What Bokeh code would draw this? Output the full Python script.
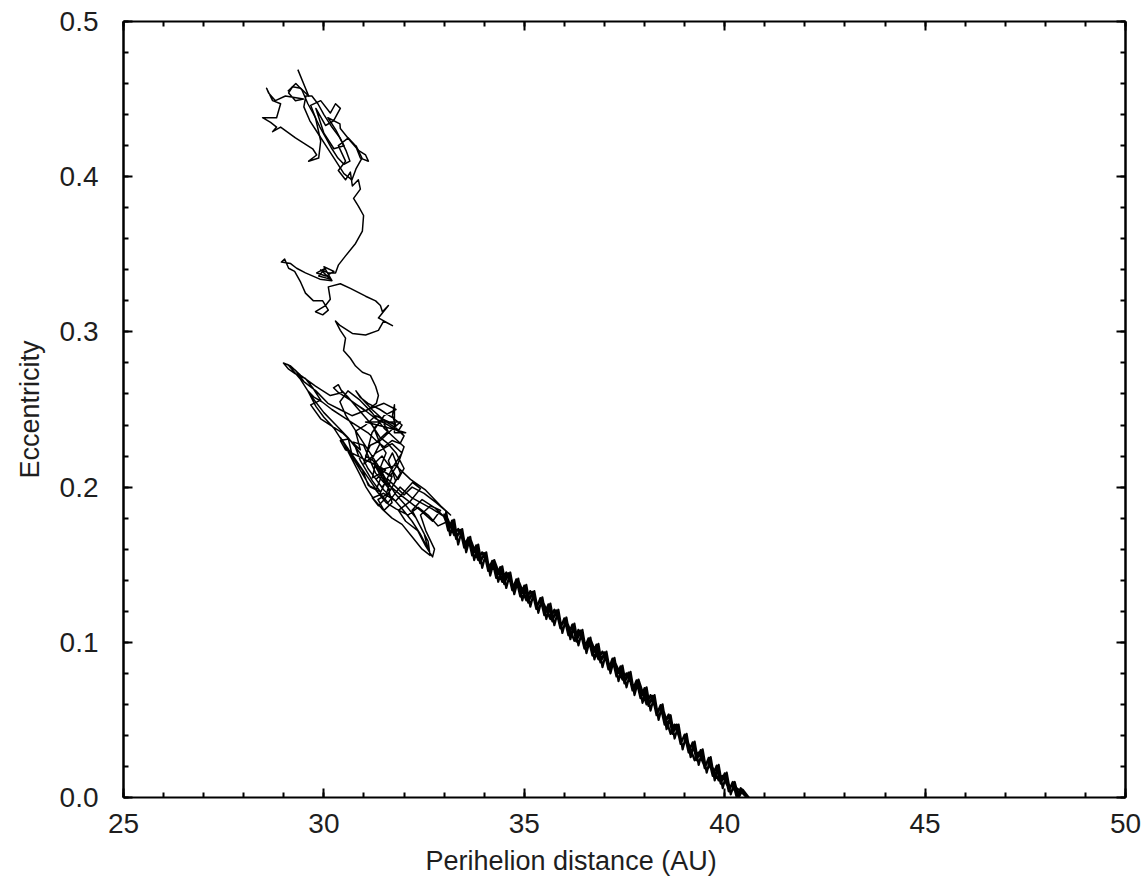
from bokeh.plotting import figure
from bokeh.models import LinearAxis, SingleIntervalTicker, PrintfTickFormatter, Range1d, Title
from bokeh.embed import file_html
from bokeh.resources import INLINE

# ---- data (perihelion distance q [AU], eccentricity e) ----
top_q = [29.35, 29.62, 29.42, 29.22, 29.12, 29.29, 29.49, 29.04, 28.79, 28.62, 28.57, 28.72, 28.92,
         28.82, 28.47, 28.67, 28.82, 28.72, 28.92, 29.29, 29.72, 29.82, 29.62, 29.87, 29.92, 29.79,
         29.67, 29.92, 30.16, 30.29, 30.41, 30.24, 30.04, 29.80, 30.00, 30.25, 30.50, 30.30, 30.10,
         30.40, 30.41, 30.66, 30.86, 31.04, 31.11, 30.91,
         30.79, 30.61, 30.36, 30.54, 30.36, 30.54, 30.66, 30.71, 30.86, 30.91, 30.74, 30.86, 30.99,
         30.96, 30.79, 30.54, 30.36, 30.29]
top_e = [0.469, 0.452, 0.457, 0.458, 0.454, 0.449, 0.450, 0.452, 0.449, 0.454, 0.457, 0.449, 0.447,
         0.438, 0.438, 0.435, 0.432, 0.429, 0.432, 0.425, 0.418, 0.414, 0.410, 0.412, 0.423, 0.438,
         0.446, 0.449, 0.441, 0.447, 0.444, 0.436, 0.433, 0.444, 0.428, 0.418, 0.420, 0.430, 0.438,
         0.434, 0.431, 0.423, 0.417, 0.414, 0.410, 0.412,
         0.420, 0.425, 0.420, 0.410, 0.404, 0.398, 0.403, 0.394, 0.398, 0.392, 0.386, 0.381, 0.375,
         0.365, 0.357, 0.349, 0.343, 0.338]

top2_q = [29.10, 29.30, 29.45, 29.60, 29.75, 29.90, 30.05, 30.20, 30.35, 30.50, 30.65, 30.55, 30.40,
          30.20, 30.00, 29.85, 29.70, 29.55, 29.50, 29.65, 29.85, 30.05, 30.30, 30.50, 30.70, 30.80,
          30.95, 30.80]
top2_e = [0.455, 0.460, 0.456, 0.447, 0.440, 0.432, 0.425, 0.418, 0.412, 0.408, 0.410, 0.417, 0.425,
          0.432, 0.440, 0.447, 0.452, 0.452, 0.445, 0.436, 0.428, 0.420, 0.410, 0.402, 0.398, 0.405,
          0.412, 0.420]

mid_q = [30.11, 29.92, 30.16, 29.87, 30.04, 29.82, 30.05, 30.25, 30.00, 30.20, 29.90,
         29.54, 29.32, 29.17, 28.94, 29.02, 29.12, 29.27,
         29.42, 29.54, 29.74, 29.97, 30.11, 29.97, 29.79, 30.04, 30.16, 30.11, 30.41, 30.66, 31.04,
         31.29, 31.41, 31.46, 31.61, 31.36, 31.71, 31.49, 31.36, 31.04, 30.71, 30.41, 30.29, 30.41,
         30.54, 30.49, 30.66, 30.79, 30.96, 31.16, 31.29, 31.36, 31.31]
mid_e = [0.338, 0.340, 0.334, 0.336, 0.341, 0.338, 0.336, 0.339, 0.342, 0.333, 0.334,
         0.338, 0.341, 0.344, 0.345, 0.347, 0.341, 0.339,
         0.332, 0.325, 0.320, 0.320, 0.314, 0.311, 0.313, 0.317, 0.321, 0.329, 0.331, 0.328, 0.323,
         0.320, 0.317, 0.313, 0.317, 0.309, 0.304, 0.307, 0.301, 0.298, 0.299, 0.304, 0.307, 0.301,
         0.296, 0.288, 0.283, 0.278, 0.274, 0.272, 0.265, 0.259, 0.254]

low_q = [31.04, 30.66, 30.36, 30.24, 30.36, 30.46, 30.16, 29.79, 29.42, 29.17, 28.99, 29.12, 29.29,
         29.54, 29.72, 29.92, 29.67, 29.92, 30.16, 30.46, 30.66, 30.91, 30.79, 31.04, 31.29, 31.54,
         31.79, 31.71, 31.76, 31.76, 32.04, 31.79, 31.04, 31.91, 31.61, 31.41, 31.16, 31.04, 31.29,
         31.21, 31.54, 30.54, 30.41, 30.61, 30.71, 30.96, 31.11, 31.29, 30.41, 30.79, 31.16, 31.41,
         31.21, 30.91, 30.74, 30.99, 31.29, 31.66, 31.79, 31.61, 31.71, 31.91, 31.54, 31.36, 31.21,
         31.49, 31.79, 32.04, 32.21, 32.41, 32.16, 31.86, 32.04, 32.34, 32.54, 32.71, 32.76, 32.54,
         32.41, 32.66, 32.91, 32.71, 32.41, 31.91, 31.54, 31.41, 31.79, 32.16, 32.54, 32.91, 33.16]
low_e = [0.249, 0.256, 0.261, 0.264, 0.266, 0.261, 0.259, 0.265, 0.272, 0.278, 0.280, 0.276, 0.273,
         0.270, 0.264, 0.256, 0.253, 0.244, 0.240, 0.235, 0.230, 0.224, 0.236, 0.240, 0.246, 0.243,
         0.240, 0.246, 0.253, 0.235, 0.235, 0.237, 0.242, 0.242, 0.235, 0.230, 0.227, 0.220, 0.216,
         0.206, 0.211, 0.224, 0.230, 0.231, 0.220, 0.211, 0.201, 0.199, 0.232, 0.216, 0.200, 0.197,
         0.204, 0.217, 0.229, 0.227, 0.209, 0.198, 0.204, 0.217, 0.222, 0.209, 0.193, 0.188, 0.193,
         0.196, 0.191, 0.198, 0.203, 0.199, 0.191, 0.185, 0.178, 0.172, 0.162, 0.155, 0.160, 0.172,
         0.182, 0.188, 0.185, 0.178, 0.185, 0.195, 0.203, 0.211, 0.214, 0.205, 0.198, 0.188, 0.182]

band1_q = [33.00, 33.10, 33.20, 33.30, 33.40, 33.50, 33.60, 33.70, 33.80, 33.90, 34.00, 34.10, 34.20,
           34.30, 34.40, 34.50, 34.60, 34.70, 34.80, 34.90, 35.00, 35.10, 35.20, 35.30, 35.40, 35.50,
           35.60, 35.70, 35.80, 35.90, 36.00, 36.10, 36.20, 36.30, 36.40, 36.50, 36.60, 36.70, 36.80,
           36.90, 37.00, 37.10, 37.20, 37.30, 37.40, 37.50, 37.60, 37.70, 37.80, 37.90, 38.00, 38.10,
           38.20, 38.30, 38.40, 38.50, 38.60, 38.70, 38.80, 38.90, 39.00, 39.10, 39.20, 39.30, 39.40,
           39.50, 39.60, 39.70, 39.80, 39.90, 40.00, 40.10, 40.20, 40.30, 40.40, 40.55]
band1_e = [0.181, 0.174, 0.177, 0.168, 0.171, 0.163, 0.167, 0.157, 0.162, 0.152, 0.157, 0.148, 0.152,
           0.142, 0.148, 0.139, 0.144, 0.134, 0.140, 0.130, 0.136, 0.127, 0.132, 0.122, 0.128, 0.118,
           0.124, 0.114, 0.120, 0.109, 0.115, 0.105, 0.111, 0.101, 0.107, 0.096, 0.102, 0.092, 0.098,
           0.087, 0.093, 0.083, 0.089, 0.078, 0.084, 0.074, 0.080, 0.069, 0.075, 0.064, 0.070, 0.059,
           0.065, 0.053, 0.059, 0.047, 0.053, 0.041, 0.047, 0.035, 0.040, 0.030, 0.035, 0.025, 0.030,
           0.019, 0.025, 0.014, 0.020, 0.009, 0.015, 0.005, 0.009, 0.001, 0.004, 0.000]

band2_q = [40.45, 40.25, 40.15, 39.95, 39.85, 39.65, 39.55, 39.35, 39.25, 39.05, 38.95, 38.75, 38.65,
           38.45, 38.35, 38.15, 38.05, 37.85, 37.75, 37.55, 37.45, 37.25, 37.15, 36.95, 36.85, 36.65,
           36.55, 36.35, 36.25, 36.05, 35.95, 35.75, 35.65, 35.45, 35.35, 35.15, 35.05, 34.85, 34.75,
           34.55, 34.45, 34.25, 34.15, 33.95, 33.85, 33.65, 33.55, 33.35, 33.25, 33.05]
band2_e = [0.003, 0.007, 0.003, 0.014, 0.011, 0.022, 0.017, 0.029, 0.024, 0.038, 0.033, 0.047, 0.041,
           0.058, 0.052, 0.066, 0.060, 0.076, 0.069, 0.080, 0.076, 0.088, 0.083, 0.094, 0.089, 0.102,
           0.095, 0.108, 0.101, 0.114, 0.108, 0.121, 0.115, 0.127, 0.121, 0.133, 0.127, 0.140, 0.134,
           0.145, 0.139, 0.153, 0.146, 0.158, 0.153, 0.167, 0.161, 0.173, 0.169, 0.182]

band3_q = [33.05, 33.15, 33.25, 33.35, 33.45, 33.55, 33.65, 33.75, 33.85, 33.95, 34.05, 34.15, 34.25,
           34.35, 34.45, 34.55, 34.65, 34.75, 34.85, 34.95, 35.05, 35.15, 35.25, 35.35, 35.45, 35.55,
           35.65, 35.75, 35.85, 35.95, 36.05, 36.15, 36.25, 36.35, 36.45, 36.55, 36.65, 36.75, 36.85,
           36.95, 37.05, 37.15, 37.25, 37.35, 37.45, 37.55, 37.65, 37.75, 37.85, 37.95, 38.05, 38.15,
           38.25, 38.35, 38.45, 38.55, 38.65, 38.75, 38.85, 38.95, 39.05, 39.15, 39.25, 39.35, 39.45,
           39.55, 39.65, 39.75, 39.85, 39.95, 40.05, 40.15, 40.25, 40.35, 40.45, 40.60]
band3_e = [0.184, 0.169, 0.179, 0.163, 0.173, 0.158, 0.168, 0.153, 0.163, 0.148, 0.158, 0.143, 0.153,
           0.139, 0.149, 0.135, 0.145, 0.131, 0.141, 0.127, 0.137, 0.123, 0.133, 0.119, 0.129, 0.115,
           0.125, 0.111, 0.121, 0.106, 0.116, 0.102, 0.112, 0.098, 0.108, 0.093, 0.103, 0.089, 0.099,
           0.084, 0.094, 0.080, 0.090, 0.075, 0.085, 0.071, 0.081, 0.066, 0.076, 0.061, 0.071, 0.056,
           0.066, 0.050, 0.060, 0.044, 0.053, 0.038, 0.047, 0.031, 0.041, 0.026, 0.036, 0.021, 0.031,
           0.016, 0.026, 0.011, 0.021, 0.006, 0.016, 0.002, 0.010, 0.000, 0.005, 0.000]

band4_q = [40.40, 40.30, 40.20, 40.10, 40.00, 39.90, 39.80, 39.70, 39.60, 39.50, 39.40, 39.30, 39.20,
           39.10, 39.00, 38.90, 38.80, 38.70, 38.60, 38.50, 38.40, 38.30, 38.20, 38.10, 38.00, 37.90,
           37.80, 37.70, 37.60, 37.50, 37.40, 37.30, 37.20, 37.10, 37.00, 36.90, 36.80, 36.70, 36.60,
           36.50, 36.40, 36.30, 36.20, 36.10, 36.00, 35.90, 35.80, 35.70, 35.60, 35.50, 35.40, 35.30,
           35.20, 35.10, 35.00, 34.90, 34.80, 34.70, 34.60, 34.50, 34.40, 34.30, 34.20, 34.10, 34.00,
           33.90, 33.80, 33.70, 33.60, 33.50, 33.40, 33.30, 33.20, 33.10, 33.00]
band4_e = [0.006, 0.000, 0.010, 0.004, 0.0155, 0.009, 0.0205, 0.014, 0.0255, 0.019, 0.0305, 0.024, 0.0355,
           0.029, 0.0405, 0.0345, 0.0465, 0.041, 0.0535, 0.0475, 0.0595, 0.0535, 0.0655, 0.059, 0.0705, 0.064,
           0.0755, 0.069, 0.0805, 0.0735, 0.0845, 0.078, 0.0895, 0.0825, 0.0935, 0.087, 0.0985, 0.0915, 0.1025,
           0.096, 0.1075, 0.1005, 0.1115, 0.1045, 0.1155, 0.109, 0.1205, 0.1135, 0.1245, 0.1175, 0.1285, 0.1215,
           0.1325, 0.1255, 0.1365, 0.1295, 0.1405, 0.1335, 0.1445, 0.1375, 0.1485, 0.1415, 0.1525, 0.146, 0.1575,
           0.151, 0.1625, 0.156, 0.1675, 0.161, 0.1725, 0.1665, 0.1785, 0.172, 0.183]

low2_q = [32.80, 32.50, 32.20, 32.00, 31.80, 31.60, 31.45, 31.30, 31.50, 31.70, 31.55, 31.35, 31.50,
          31.70, 31.60, 31.40, 31.25, 31.45, 31.65, 31.85, 32.00, 31.80, 31.60, 31.40, 31.20, 31.00,
          30.80, 30.60, 30.45, 30.70, 31.00, 31.30, 31.60, 31.85, 31.95, 31.70, 31.40, 31.10, 30.90,
          30.80, 30.95, 31.20, 31.50, 31.80, 32.00, 31.90, 31.70, 31.50, 31.30, 31.10, 30.80, 30.50,
          30.20, 29.95, 29.75, 29.60, 29.80, 30.00, 30.25, 30.50, 30.70, 30.90, 31.05, 31.25, 31.45,
          31.70, 31.95, 32.20, 32.45, 32.65, 32.60, 32.40, 32.20, 32.45, 32.75, 33.00]
low2_e = [0.190, 0.196, 0.200, 0.195, 0.200, 0.205, 0.200, 0.205, 0.210, 0.207, 0.195, 0.192, 0.185,
          0.190, 0.200, 0.208, 0.215, 0.220, 0.213, 0.205, 0.212, 0.222, 0.228, 0.232, 0.240, 0.246,
          0.252, 0.258, 0.262, 0.255, 0.250, 0.244, 0.240, 0.236, 0.240, 0.245, 0.250, 0.254, 0.258,
          0.262, 0.257, 0.250, 0.243, 0.238, 0.233, 0.228, 0.230, 0.226, 0.230, 0.235, 0.240, 0.245,
          0.250, 0.255, 0.258, 0.262, 0.252, 0.245, 0.238, 0.228, 0.218, 0.208, 0.200, 0.192, 0.186,
          0.180, 0.176, 0.168, 0.160, 0.156, 0.165, 0.175, 0.185, 0.192, 0.187, 0.181]

low3_q = [32.70, 32.20, 31.90, 31.60, 31.40, 31.70, 31.95, 31.70, 31.30, 31.00, 31.20, 31.50, 31.80,
          31.50, 31.10, 30.70, 30.40, 30.10, 29.80, 29.50, 29.30, 29.10, 29.40, 29.70, 30.00, 30.30,
          30.60, 30.90, 31.10, 31.30, 31.50, 31.75, 31.95, 32.20, 32.40, 32.60, 32.50, 32.30, 32.05,
          31.80, 31.55, 31.35, 31.15, 30.95, 30.75, 30.55, 30.40, 30.60, 30.90, 31.20, 31.50, 31.75,
          32.00, 31.85, 31.65, 31.40, 31.55, 31.35, 31.60, 31.45, 31.25, 31.40, 31.20, 31.45, 31.30,
          31.55, 31.80, 32.10, 32.35, 32.60, 32.85, 33.10]
low3_e = [0.186, 0.193, 0.200, 0.190, 0.196, 0.212, 0.222, 0.228, 0.222, 0.215, 0.235, 0.246, 0.250,
          0.254, 0.250, 0.246, 0.250, 0.254, 0.262, 0.268, 0.275, 0.279, 0.270, 0.258, 0.248, 0.240,
          0.232, 0.222, 0.212, 0.205, 0.198, 0.192, 0.186, 0.178, 0.170, 0.160, 0.170, 0.180, 0.188,
          0.195, 0.205, 0.214, 0.222, 0.230, 0.238, 0.246, 0.255, 0.262, 0.256, 0.248, 0.238, 0.232,
          0.226, 0.215, 0.207, 0.212, 0.222, 0.230, 0.236, 0.243, 0.238, 0.228, 0.218, 0.208, 0.198,
          0.190, 0.186, 0.182, 0.187, 0.182, 0.175, 0.178]

x_ticks_interval = 5
y_ticks_interval = 0.1
x_title = "Perihelion distance (AU)"
y_title = "Eccentricity"

clusters_q = top_q + mid_q + low_q + low2_q + low3_q
clusters_e = top_e + mid_e + low_e + low2_e + low3_e
band_q = band1_q + band2_q + band3_q + band4_q
band_e = band1_e + band2_e + band3_e + band4_e

FONT = "Liberation Sans"
INK = "#1e1e1e"

p = figure(frame_width=1002, frame_height=776,
           min_border_left=123, min_border_right=18, min_border_top=21, min_border_bottom=80,
           x_range=Range1d(25, 50), y_range=Range1d(0, 0.5),
           x_axis_location=None, y_axis_location=None,
           output_backend="svg", toolbar_location=None)
p.outline_line_color = None
p.xgrid.visible = False
p.ygrid.visible = False
p.background_fill_color = "white"
p.border_fill_color = "white"

def style_axis(ax, lw, show_labels):
    ax.axis_line_width = lw
    ax.axis_line_color = "black"
    ax.major_tick_in = 9
    ax.major_tick_out = 0
    ax.minor_tick_in = 5
    ax.minor_tick_out = 0
    ax.major_tick_line_width = 2
    ax.minor_tick_line_width = 2
    ax.major_tick_line_color = "black"
    ax.minor_tick_line_color = "black"
    ax.major_label_text_font = FONT
    if show_labels:
        ax.major_label_text_font_size = "28px"
        ax.major_label_text_color = INK
    else:
        ax.major_label_text_font_size = "0px"
        ax.major_label_text_color = None
        ax.major_label_standoff = 0

def xt():
    return SingleIntervalTicker(interval=x_ticks_interval, num_minor_ticks=5)

def yt():
    return SingleIntervalTicker(interval=y_ticks_interval, num_minor_ticks=5)

xb = LinearAxis(ticker=xt(), formatter=PrintfTickFormatter(format="%d"))
style_axis(xb, 2, True)
xb.major_label_standoff = 16
p.add_layout(xb, "below")

xa = LinearAxis(ticker=xt())
style_axis(xa, 2, False)
p.add_layout(xa, "above")

yl = LinearAxis(ticker=yt(), formatter=PrintfTickFormatter(format="%.1f"))
style_axis(yl, 2.5, True)
yl.major_label_standoff = 25
yl.axis_label = y_title
yl.axis_label_text_font = FONT
yl.axis_label_text_font_size = "27px"
yl.axis_label_text_font_style = "normal"
yl.axis_label_text_color = INK
yl.axis_label_standoff = 12
p.add_layout(yl, "left")

yr = LinearAxis(ticker=yt())
style_axis(yr, 2.5, False)
p.add_layout(yr, "right")

p.line(clusters_q, clusters_e, line_color="black", line_width=1.5, line_join="round")
p.line(top2_q, top2_e, line_color="black", line_width=1.5, line_join="round")
p.line(band_q, band_e, line_color="black", line_width=2.2, line_join="round")

xt_title = Title(text=x_title, align="left", offset=302,
                 text_font=FONT, text_font_size="27px", text_font_style="normal",
                 text_color=INK, standoff=16)
p.add_layout(xt_title, "below")

open("out.html", "w").write(file_html(p, INLINE))
